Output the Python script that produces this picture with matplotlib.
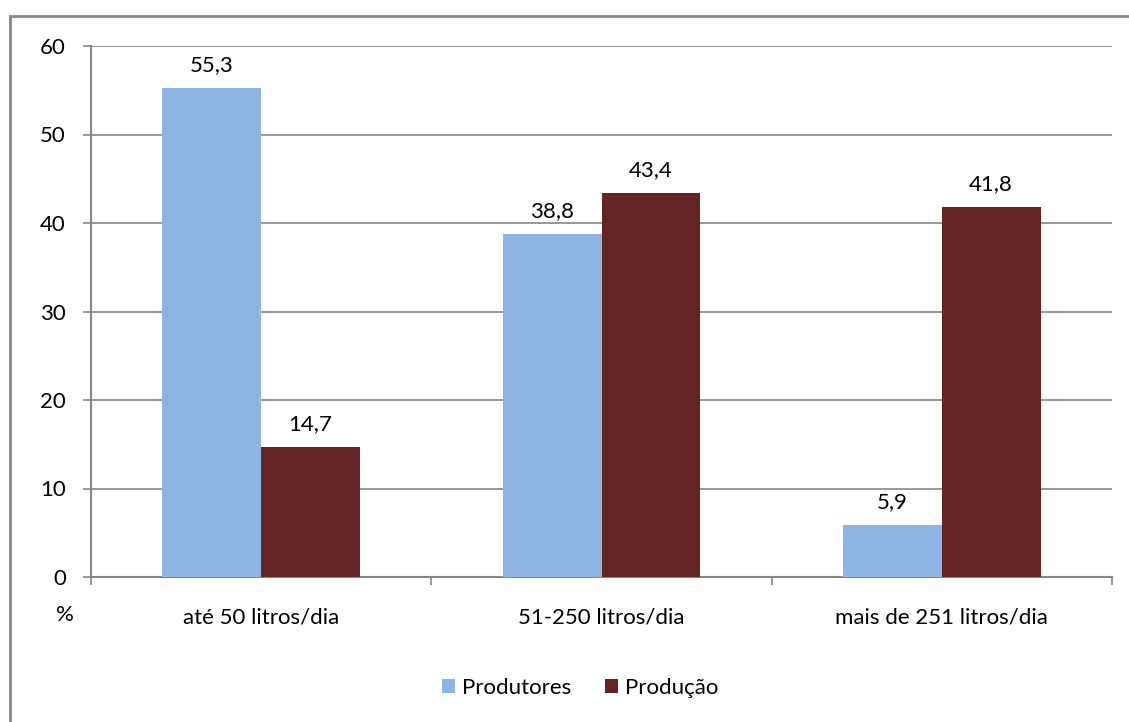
import matplotlib.pyplot as plt
import numpy as np
from matplotlib.patches import Rectangle

plt.rcParams["font.family"] = ["Lato", "DejaVu Sans"]

categories = ["até 50 litros/dia", "51-250 litros/dia", "mais de 251 litros/dia"]
produtores = [55.3, 38.8, 5.9]
producao = [14.7, 43.4, 41.8]
labels_prod = ["55,3", "38,8", "5,9"]
labels_pcao = ["14,7", "43,4", "41,8"]

BLUE = "#8EB4E3"
RED = "#632423"
GRID = "#868686"
FS = 16


def main() -> None:
    fig = plt.figure(figsize=(11.29, 7.22), dpi=100)
    ax = fig.add_axes([91 / 1129, 1 - 577 / 722, (1112 - 91) / 1129, (577 - 46) / 722])

    # outer chart frame
    fig.patches.append(Rectangle((10 / 1129, -0.1), 1.1, 1 - 16 / 722 + 0.1,
                                 transform=fig.transFigure, fill=False,
                                 edgecolor=GRID, lw=2))

    x = np.arange(len(categories))
    w = 0.29
    b1 = ax.bar(x - w / 2, produtores, w, color=BLUE, label="Produtores", zorder=3)
    b2 = ax.bar(x + w / 2, producao, w, color=RED, label="Produção", zorder=3)

    for bars, labs in ((b1, labels_prod), (b2, labels_pcao)):
        for rect, lab in zip(bars, labs):
            ax.annotate(lab, (rect.get_x() + rect.get_width() / 2, rect.get_height()),
                        xytext=(0, 9), textcoords="offset points",
                        ha="center", va="bottom", fontsize=FS)

    ax.set_xlim(-0.5, 2.5)
    ax.set_ylim(0, 60)
    ax.set_yticks(range(0, 61, 10))
    ax.yaxis.grid(True, color=GRID, lw=1.2, zorder=0)
    ax.set_axisbelow(True)

    ax.set_xticks([-0.5, 0.5, 1.5, 2.5])
    ax.set_xticklabels([])
    ax.set_xticks(x, minor=True)
    ax.set_xticklabels(categories, minor=True)
    ax.tick_params(axis="x", which="major", length=6, color=GRID, width=1.2)
    ax.tick_params(axis="x", which="minor", length=0, pad=22, labelsize=FS)
    ax.tick_params(axis="y", length=6, color=GRID, width=1.2, labelsize=FS, pad=12)

    for side in ("top", "right"):
        ax.spines[side].set_visible(False)
    for side in ("left", "bottom"):
        ax.spines[side].set_color(GRID)
        ax.spines[side].set_linewidth(1.5)

    fig.text(65 / 1129, 1 - 615 / 722, "%", ha="center", va="center", fontsize=FS)

    fig.legend(loc="center", bbox_to_anchor=(580 / 1129, 1 - 688 / 722), ncol=2,
               frameon=False, fontsize=FS, handlelength=0.6, handleheight=0.6,
               handletextpad=0.3, columnspacing=1.5)

    fig.savefig("out.png", dpi=100)
    plt.close(fig)


if __name__ == "__main__":
    main()
